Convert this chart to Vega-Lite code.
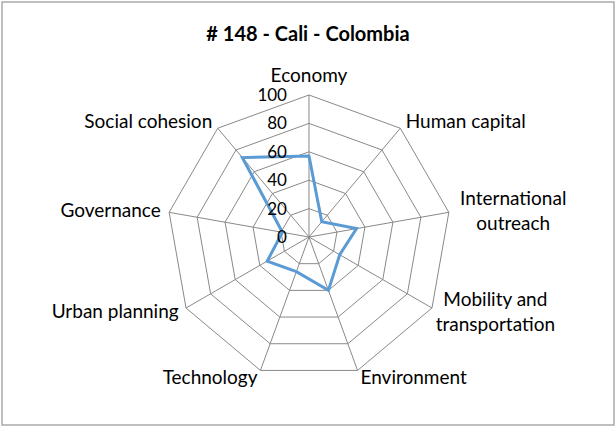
{
  "$schema": "https://vega.github.io/schema/vega-lite/v6.json",
  "width": 612,
  "height": 423,
  "autosize": "none",
  "padding": {"left": 2, "top": 2, "right": 2, "bottom": 3},
  "background": "white",
  "config": {
    "view": {"stroke": "#ABABAB", "strokeWidth": 1.5},
    "font": "Lato",
    "text": {"font": "Lato", "fontSize": 19, "color": "#000000"}
  },
  "title": {
    "text": "# 148 - Cali - Colombia",
    "font": "Lato",
    "fontSize": 20,
    "fontWeight": "bold",
    "color": "#000000",
    "anchor": "middle",
    "baseline": "middle",
    "offset": -53
  },
  "datasets": {
    "scores": [
      {"i": 0, "axis": "Economy", "value": 57},
      {"i": 1, "axis": "Human capital", "value": 14},
      {"i": 2, "axis": "International\noutreach", "value": 34},
      {"i": 3, "axis": "Mobility and\ntransportation", "value": 25},
      {"i": 4, "axis": "Environment", "value": 40},
      {"i": 5, "axis": "Technology", "value": 26},
      {"i": 6, "axis": "Urban planning", "value": 34},
      {"i": 7, "axis": "Governance", "value": 19},
      {"i": 8, "axis": "Social cohesion", "value": 73}
    ],
    "rings": [
      {"level": 20, "i": 0}, {"level": 20, "i": 1}, {"level": 20, "i": 2}, {"level": 20, "i": 3}, {"level": 20, "i": 4}, {"level": 20, "i": 5}, {"level": 20, "i": 6}, {"level": 20, "i": 7}, {"level": 20, "i": 8},
      {"level": 40, "i": 0}, {"level": 40, "i": 1}, {"level": 40, "i": 2}, {"level": 40, "i": 3}, {"level": 40, "i": 4}, {"level": 40, "i": 5}, {"level": 40, "i": 6}, {"level": 40, "i": 7}, {"level": 40, "i": 8},
      {"level": 60, "i": 0}, {"level": 60, "i": 1}, {"level": 60, "i": 2}, {"level": 60, "i": 3}, {"level": 60, "i": 4}, {"level": 60, "i": 5}, {"level": 60, "i": 6}, {"level": 60, "i": 7}, {"level": 60, "i": 8},
      {"level": 80, "i": 0}, {"level": 80, "i": 1}, {"level": 80, "i": 2}, {"level": 80, "i": 3}, {"level": 80, "i": 4}, {"level": 80, "i": 5}, {"level": 80, "i": 6}, {"level": 80, "i": 7}, {"level": 80, "i": 8},
      {"level": 100, "i": 0}, {"level": 100, "i": 1}, {"level": 100, "i": 2}, {"level": 100, "i": 3}, {"level": 100, "i": 4}, {"level": 100, "i": 5}, {"level": 100, "i": 6}, {"level": 100, "i": 7}, {"level": 100, "i": 8}
    ],
    "ticks": [
      {"level": 0}, {"level": 20}, {"level": 40}, {"level": 60}, {"level": 80}, {"level": 100}
    ]
  },
  "layer": [
    {
      "data": {"name": "rings"},
      "transform": [
        {"calculate": "datum.level * sin(datum.i * 2 * PI / 9)", "as": "px"},
        {"calculate": "datum.level * cos(datum.i * 2 * PI / 9)", "as": "py"}
      ],
      "mark": {"type": "line", "interpolate": "linear-closed", "stroke": "#898989", "strokeWidth": 1},
      "encoding": {
        "x": {"field": "px", "type": "quantitative", "scale": {"domain": [-216.2, 214.8], "nice": false, "zero": false}, "axis": null},
        "y": {"field": "py", "type": "quantitative", "scale": {"domain": [-132.4, 165.5], "nice": false, "zero": false}, "axis": null},
        "detail": {"field": "level", "type": "nominal"},
        "order": {"field": "i", "type": "quantitative"}
      }
    },
    {
      "data": {"name": "scores"},
      "transform": [
        {"calculate": "100 * sin(datum.i * 2 * PI / 9)", "as": "px"},
        {"calculate": "100 * cos(datum.i * 2 * PI / 9)", "as": "py"},
        {"calculate": "0", "as": "cx"}
      ],
      "mark": {"type": "rule", "stroke": "#898989", "strokeWidth": 1},
      "encoding": {
        "x": {"field": "cx", "type": "quantitative"},
        "y": {"field": "cx", "type": "quantitative"},
        "x2": {"field": "px"},
        "y2": {"field": "py"}
      }
    },
    {
      "data": {"name": "scores"},
      "transform": [
        {"calculate": "datum.value * sin(datum.i * 2 * PI / 9)", "as": "px"},
        {"calculate": "datum.value * cos(datum.i * 2 * PI / 9)", "as": "py"}
      ],
      "mark": {"type": "line", "interpolate": "linear-closed", "stroke": "#5B9BD5", "strokeWidth": 3, "strokeJoin": "miter"},
      "encoding": {
        "x": {"field": "px", "type": "quantitative"},
        "y": {"field": "py", "type": "quantitative"},
        "order": {"field": "i", "type": "quantitative"}
      }
    },
    {
      "data": {"name": "ticks"},
      "transform": [{"calculate": "0", "as": "cx"}],
      "mark": {"type": "text", "align": "right", "baseline": "middle", "dx": -22, "dy": 1, "fontSize": 17},
      "encoding": {
        "x": {"field": "cx", "type": "quantitative"},
        "y": {"field": "level", "type": "quantitative"},
        "text": {"field": "level", "type": "quantitative"}
      }
    },
    {
      "data": {"name": "scores"},
      "transform": [
        {"filter": "datum.i == 0"},
        {"calculate": "106 * sin(datum.i * 2 * PI / 9)", "as": "px"},
        {"calculate": "106 * cos(datum.i * 2 * PI / 9)", "as": "py"}
      ],
      "mark": {"type": "text", "align": "center", "baseline": "bottom", "dy": 0},
      "encoding": {
        "x": {"field": "px", "type": "quantitative"},
        "y": {"field": "py", "type": "quantitative"},
        "text": {"field": "axis"}
      }
    },
    {
      "data": {"name": "scores"},
      "transform": [
        {"filter": "datum.i == 1 || datum.i == 4"},
        {"calculate": "106 * sin(datum.i * 2 * PI / 9)", "as": "px"},
        {"calculate": "106 * cos(datum.i * 2 * PI / 9)", "as": "py"}
      ],
      "mark": {"type": "text", "align": "left", "baseline": "middle"},
      "encoding": {
        "x": {"field": "px", "type": "quantitative"},
        "y": {"field": "py", "type": "quantitative"},
        "text": {"field": "axis"}
      }
    },
    {
      "data": {"name": "scores"},
      "transform": [
        {"filter": "datum.i == 2 || datum.i == 3"},
        {"calculate": "106 * sin(datum.i * 2 * PI / 9)", "as": "px"},
        {"calculate": "106 * cos(datum.i * 2 * PI / 9)", "as": "py"}
      ],
      "mark": {"type": "text", "align": "center", "baseline": "middle", "lineBreak": "\n", "lineHeight": 25, "dx": 56, "dy": -12},
      "encoding": {
        "x": {"field": "px", "type": "quantitative"},
        "y": {"field": "py", "type": "quantitative"},
        "text": {"field": "axis"}
      }
    },
    {
      "data": {"name": "scores"},
      "transform": [
        {"filter": "datum.i >= 5"},
        {"calculate": "106 * sin(datum.i * 2 * PI / 9)", "as": "px"},
        {"calculate": "106 * cos(datum.i * 2 * PI / 9)", "as": "py"}
      ],
      "mark": {"type": "text", "align": "right", "baseline": "middle"},
      "encoding": {
        "x": {"field": "px", "type": "quantitative"},
        "y": {"field": "py", "type": "quantitative"},
        "text": {"field": "axis"}
      }
    }
  ]
}
